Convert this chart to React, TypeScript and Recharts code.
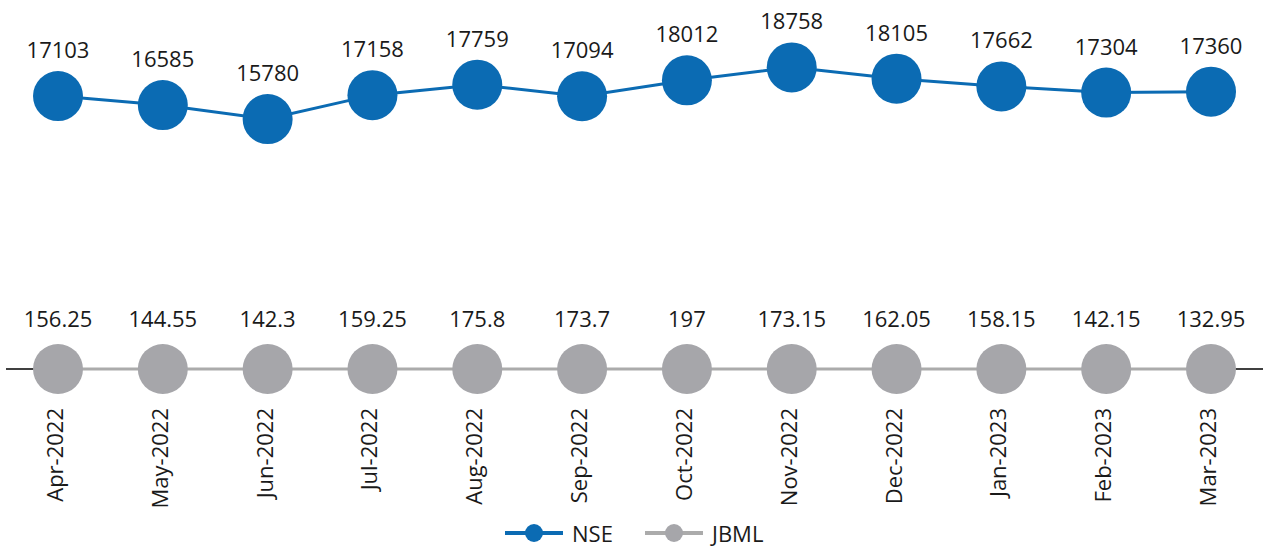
import React from "react";
import { LineChart, Line, XAxis, YAxis, LabelList } from "recharts";

const months = [
  "Apr-2022",
  "May-2022",
  "Jun-2022",
  "Jul-2022",
  "Aug-2022",
  "Sep-2022",
  "Oct-2022",
  "Nov-2022",
  "Dec-2022",
  "Jan-2023",
  "Feb-2023",
  "Mar-2023",
];
const nseValues = [17103, 16585, 15780, 17158, 17759, 17094, 18012, 18758, 18105, 17662, 17304, 17360];
const jbmlValues = [156.25, 144.55, 142.3, 159.25, 175.8, 173.7, 197, 173.15, 162.05, 158.15, 142.15, 132.95];

const NSE_COLOR = "#0B6BB3";
const JBML_DOT = "#A6A6AA";
const JBML_LINE = "#ABABAB";
const FONT = "'Open Sans', 'Noto Sans', sans-serif";
const TEXT = "#1a1a1a";

const data = months.map((month, i) => ({
  month,
  nse: nseValues[i],
  jbml: jbmlValues[i],
}));

const MonthTick = (props: any) => {
  const { x, payload } = props;
  return (
    <text
      transform={`translate(${x + 5}, 408) rotate(-90)`}
      textAnchor="end"
      fontSize={22}
      fontFamily={FONT}
      fill={TEXT}
    >
      {payload.value}
    </text>
  );
};

const makeLabel = (offset: number) => (props: any) => {
  const { x, y, value } = props;
  return (
    <text x={x} y={y - offset} textAnchor="middle" fontSize={22} fontFamily={FONT} fill={TEXT}>
      {value}
    </text>
  );
};

const LegendItem = ({ color, dot, label, left }: { color: string; dot: string; label: string; left: number }) => (
  <div style={{ position: "absolute", left, top: 519, display: "flex", alignItems: "center", height: 28 }}>
    <svg width={58} height={28}>
      <line x1={0} y1={14} x2={58} y2={14} stroke={color} strokeWidth={4} />
      <circle cx={29} cy={14} r={9} fill={dot} />
    </svg>
    <span style={{ marginLeft: 9, fontFamily: FONT, fontSize: 22, color: TEXT, lineHeight: "28px" }}>{label}</span>
  </div>
);

export default function App() {
  return (
    <div style={{ position: "absolute", left: 0, top: 0, width: 1264, height: 547, background: "#fff" }}>
      <LineChart width={1264} height={547} data={data} margin={{ top: 0, right: 1, left: 6, bottom: 0 }}>
        <XAxis
          dataKey="month"
          height={178}
          interval={0}
          tickLine={false}
          axisLine={{ stroke: "#000", strokeWidth: 1.5 }}
          tick={<MonthTick />}
          padding={{ left: 52, right: 52 }}
        />
        <YAxis yAxisId="left" hide domain={[1380, 22640]} />
        <YAxis yAxisId="right" orientation="right" hide domain={[0, 10000000]} />
        <Line
          yAxisId="left"
          type="linear"
          dataKey="nse"
          name="NSE"
          stroke={NSE_COLOR}
          strokeWidth={3}
          dot={{ r: 25, fill: NSE_COLOR, stroke: "none" }}
          activeDot={false}
          isAnimationActive={false}
          zIndex={550}
        >
          <LabelList dataKey="nse" content={makeLabel(38)} />
        </Line>
        <Line
          yAxisId="right"
          type="linear"
          dataKey="jbml"
          name="JBML"
          stroke={JBML_LINE}
          strokeWidth={3}
          dot={{ r: 25, fill: JBML_DOT, stroke: "none" }}
          activeDot={false}
          isAnimationActive={false}
          zIndex={550}
        >
          <LabelList dataKey="jbml" content={makeLabel(42)} />
        </Line>
      </LineChart>
      <LegendItem color={NSE_COLOR} dot={NSE_COLOR} label="NSE" left={505} />
      <LegendItem color={JBML_LINE} dot={JBML_DOT} label="JBML" left={645} />
    </div>
  );
}
